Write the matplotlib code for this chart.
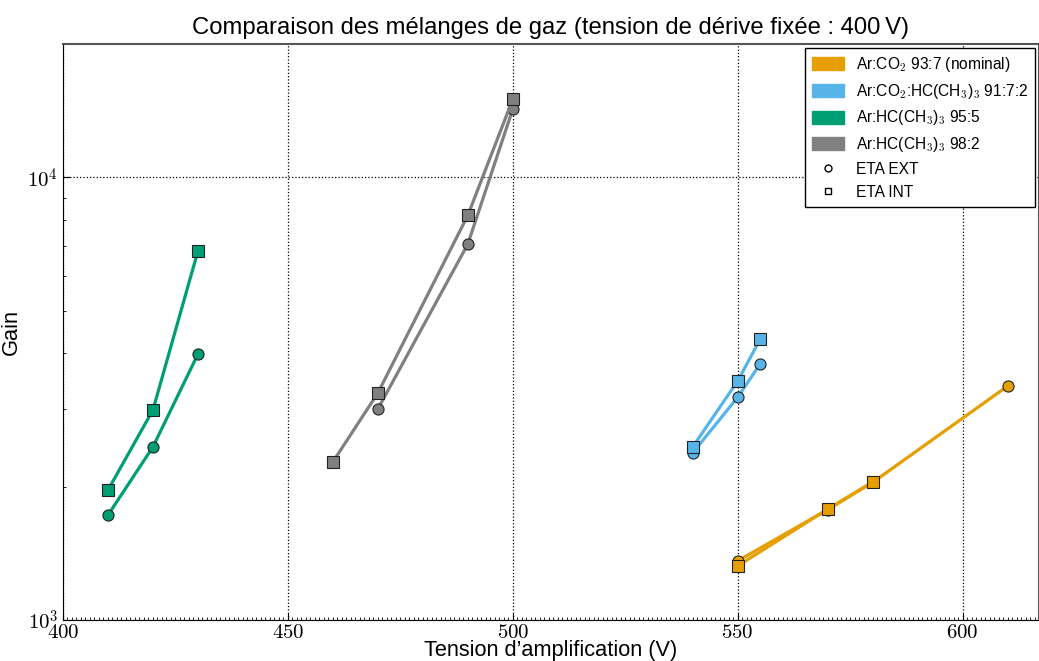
import numpy as np
import matplotlib
matplotlib.use("Agg")
import matplotlib.pyplot as plt
import matplotlib.patches as mpatches
from matplotlib.lines import Line2D
from matplotlib.ticker import FuncFormatter, MultipleLocator, LogLocator

plt.rcParams['font.family'] = ['Liberation Sans', 'DejaVu Sans']
plt.rcParams['mathtext.fontset'] = 'cm'

# Ar:CO2 93:7 (nominal)
co2_v_ext = [550, 570, 580, 610]
co2_g_ext = [1360, 1775, 2045, 3375]
co2_v_int = [550, 570, 580]
co2_g_int = [1325, 1780, 2050]

# Ar:CO2:HC(CH3)3 91:7:2
mix_v_ext = [540, 550, 555]
mix_g_ext = [2385, 3185, 3785]
mix_v_int = [540, 550, 555]
mix_g_int = [2460, 3465, 4305]

# Ar:HC(CH3)3 95:5
iso5_v_ext = [410, 420, 430]
iso5_g_ext = [1725, 2460, 3985]
iso5_v_int = [410, 420, 430]
iso5_g_int = [1965, 2980, 6810]

# Ar:HC(CH3)3 98:2
iso2_v_ext = [470, 490, 500]
iso2_g_ext = [2995, 7060, 14250]
iso2_v_int = [460, 470, 490, 500]
iso2_g_int = [2275, 3255, 8200, 15000]

labels = [r'Ar:CO$_\mathsf{2}$ 93:7 (nominal)',
          r'Ar:CO$_\mathsf{2}$:HC(CH$_\mathsf{3}$)$_\mathsf{3}$ 91:7:2',
          r'Ar:HC(CH$_\mathsf{3}$)$_\mathsf{3}$ 95:5',
          r'Ar:HC(CH$_\mathsf{3}$)$_\mathsf{3}$ 98:2']
colors = ['#E69F00', '#56B4E9', '#009E73', '#808080']

series = [(co2_v_ext, co2_g_ext, co2_v_int, co2_g_int),
          (mix_v_ext, mix_g_ext, mix_v_int, mix_g_int),
          (iso5_v_ext, iso5_g_ext, iso5_v_int, iso5_g_int),
          (iso2_v_ext, iso2_g_ext, iso2_v_int, iso2_g_int)]

fig = plt.figure(figsize=(10.39, 6.61), dpi=100)
ax = fig.add_axes([0.0606, 0.062, 0.9394, 0.8714])

for (ve, ge, vi, gi), c in zip(series, colors):
    ax.plot(ve, ge, '-o', color=c, lw=2.3, ms=8, mec='#222222', mew=0.8)
    ax.plot(vi, gi, '-s', color=c, lw=2.3, ms=8, mec='#222222', mew=0.8)

ax.set_yscale('log')
ax.set_xlim(400, 617)
ax.set_ylim(1e3, 2e4)
ax.xaxis.set_major_locator(MultipleLocator(50))
ax.xaxis.set_minor_locator(MultipleLocator(1))
ax.xaxis.set_major_formatter(FuncFormatter(lambda v, p: r'$%d$' % v))
ax.yaxis.set_major_locator(LogLocator(base=10))
ax.yaxis.set_major_formatter(FuncFormatter(lambda v, p: r'$10^{%d}$' % round(np.log10(v))))
ax.tick_params(which='both', direction='in', top=False, right=False, labelsize=15)
ax.tick_params(which='major', length=5)
ax.tick_params(which='minor', length=2.5)
ax.tick_params(axis='x', pad=2)
ax.grid(True, which='major', ls=':', color='black', lw=0.9)
for s in ['top', 'right']:
    ax.spines[s].set_color('#555555')
    ax.spines[s].set_linewidth(1.5)
for s in ['left', 'bottom']:
    ax.spines[s].set_color('black')

ax.set_title('Comparaison des mélanges de gaz (tension de dérive fixée : 400\u2009V)',
             fontsize=17.2, pad=7)
ax.set_xlabel('Tension d\u2019amplification (V)', fontsize=15.7, labelpad=-1)
ax.set_ylabel('Gain', fontsize=15.7, labelpad=4)

handles = [mpatches.Patch(color=c, label=l) for c, l in zip(colors, labels)]
handles.append(Line2D([], [], marker='o', ls='none', mfc='white', mec='black', ms=5, label='ETA EXT'))
handles.append(Line2D([], [], marker='s', ls='none', mfc='white', mec='black', ms=5, label='ETA INT'))
leg = ax.legend(handles=handles, loc='upper right', fontsize=11.2, fancybox=False,
                framealpha=1, edgecolor='black', borderaxespad=0.25, borderpad=0.45,
                handlelength=2.1, handleheight=0.9, handletextpad=0.75, labelspacing=0.5)
leg.get_frame().set_linewidth(1.0)

fig.savefig('out.png', dpi=100)
